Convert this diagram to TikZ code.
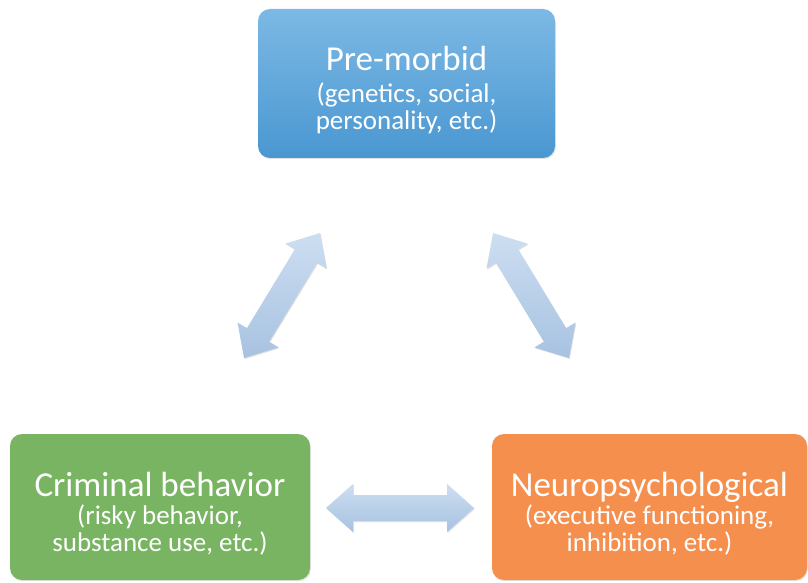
\documentclass[tikz,border=0pt]{standalone}
\usepackage{fontspec}
\setmainfont{Carlito}
\usetikzlibrary{calc,shadows}

\definecolor{blueTop}{HTML}{7CB9E5}
\definecolor{blueBot}{HTML}{4A97D1}
\definecolor{greenFill}{HTML}{79B462}
\definecolor{orangeFill}{HTML}{F58F4E}
\definecolor{arrowTop}{HTML}{CDDEF1}
\definecolor{arrowBot}{HTML}{A7C2E1}

% block double arrow between two named coordinates
\newcommand\arrHead{27pt}
\newcommand\arrWide{24pt}
\newcommand\arrShaft{13pt}
\newcommand\blockarrow[2]{%
  \path[arrowbody]
    (#1)
    -- ($(#1)!\arrHead!(#2)!\arrWide!90:(#2)$)
    -- ($(#1)!\arrHead!(#2)!\arrShaft!90:(#2)$)
    -- ($(#2)!\arrHead!(#1)!\arrShaft!-90:(#1)$)
    -- ($(#2)!\arrHead!(#1)!\arrWide!-90:(#1)$)
    -- (#2)
    -- ($(#2)!\arrHead!(#1)!\arrWide!90:(#1)$)
    -- ($(#2)!\arrHead!(#1)!\arrShaft!90:(#1)$)
    -- ($(#1)!\arrHead!(#2)!\arrShaft!-90:(#2)$)
    -- ($(#1)!\arrHead!(#2)!\arrWide!-90:(#2)$)
    -- cycle;}

% title line of a box, with extra head room so the text block sits a little low
\newcommand\boxtitle[1]{{\fontsize{35}{35}\selectfont\rule{0pt}{37pt}#1}}

\tikzset{
  box/.style={rounded corners=12pt, inner sep=0pt, align=center,
    text=white, font=\fontsize{27}{27}\selectfont,
    drop shadow={opacity=0.22, shadow xshift=0.8pt, shadow yshift=-1.2pt}},
  arrowbody/.style={top color=arrowTop, bottom color=arrowBot,
    drop shadow={opacity=0.25, shadow xshift=0.8pt, shadow yshift=-1pt}}
}

\begin{document}
\begin{tikzpicture}[x=1pt,y=1pt]
  \useasboundingbox (0,0) rectangle (808,582);

  % the three factor boxes
  \node[box, top color=blueTop, bottom color=blueBot,
        minimum width=297pt, minimum height=149pt] (pre) at (406.5,498.5)
    {\boxtitle{Pre-morbid}\\[5pt]
     (genetics, social,\\personality, etc.)};
  \node[box, fill=greenFill,
        minimum width=300pt, minimum height=146pt] (crim) at (160,75)
    {\boxtitle{Criminal behavior}\\[1pt]
     (risky behavior,\\substance use, etc.)};
  \node[box, fill=orangeFill,
        minimum width=315pt, minimum height=146pt] (neuro) at (649.5,75)
    {\boxtitle{Neuropsychological}\\[1pt]
     (executive functioning,\\inhibition, etc.)};

  % arrow end points
  \coordinate (lA) at (244,224);
  \coordinate (lB) at (320,349);
  \coordinate (rA) at (493,349);
  \coordinate (rB) at (569,224);
  \coordinate (bA) at (326,74);
  \coordinate (bB) at (474,74);

  \blockarrow{lA}{lB}
  \blockarrow{rA}{rB}
  \blockarrow{bA}{bB}
\end{tikzpicture}
\end{document}
